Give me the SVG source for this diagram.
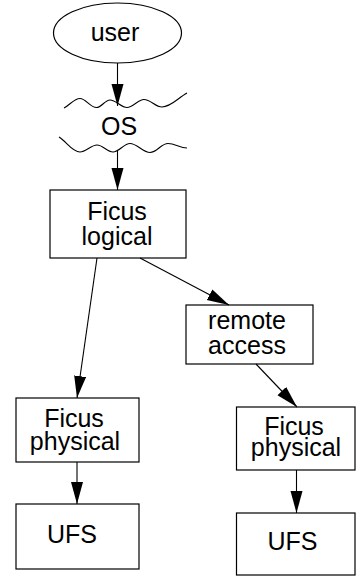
<svg xmlns="http://www.w3.org/2000/svg" width="356" height="577" viewBox="0 0 356 577">
<defs>
<style>
.box{fill:#fff;stroke:#000;stroke-width:1.2}
.t{font-family:"Liberation Sans",Arial,sans-serif;font-size:25px;fill:#000;text-anchor:middle}
.e{fill:none;stroke:#000;stroke-width:1.1}
.w{fill:none;stroke:#000;stroke-width:1.1}
</style>
<marker id="ah" markerUnits="userSpaceOnUse" markerWidth="24" markerHeight="14" refX="22" refY="6" orient="auto">
<path d="M0,0 L22,6 L0,12 z" fill="#000"/>
</marker>
</defs>
<rect width="356" height="577" fill="#fff"/>
<g id="user">
<ellipse cx="117.5" cy="33" rx="64" ry="30" class="box"/>
<text x="115" y="41" class="t">user</text>
</g>
<g id="os">
<path class="w" d="M64,108 C70,105 74,98.5 80,98.5 C86,98.5 90,107.5 96.5,107.5 C101.5,107.5 105,100 110,100 C116,100 121,107.5 127,107.5 C133,107.5 138,99.5 144,99.5 C151,99.5 155,107 162,107 C171,107 178,98 187,93"/>
<text x="119" y="135" class="t">OS</text>
<path class="w" d="M59,137 C66,141 72,152 80,152 C86,152 91,145 97,145 C103,145 107,152 113,152 C119,152 124,143.5 130,143.5 C137,143.5 143,152.5 150,152.5 C157,152.5 161,143.5 168,143.5 C175,143.5 180,148 187,148"/>
</g>
<g id="ficus-logical">
<rect x="50" y="190" width="136" height="68" class="box"/>
<text x="117" y="220" class="t">Ficus</text>
<text x="117" y="245" class="t">logical</text>
</g>
<g id="remote-access">
<rect x="186" y="305" width="127" height="59" class="box"/>
<text x="247" y="329" class="t">remote</text>
<text x="247" y="354" class="t">access</text>
</g>
<g id="ficus-physical-left">
<rect x="16" y="398" width="123" height="64" class="box"/>
<text x="74" y="427" class="t">Ficus</text>
<text x="75" y="450" class="t">physical</text>
</g>
<g id="ufs-left">
<rect x="16" y="504" width="123" height="65" class="box"/>
<text x="72" y="543" class="t">UFS</text>
</g>
<g id="ficus-physical-right">
<rect x="236.5" y="407" width="118.5" height="63" class="box"/>
<text x="294" y="435" class="t">Ficus</text>
<text x="296" y="456" class="t">physical</text>
</g>
<g id="ufs-right">
<rect x="236.5" y="513" width="118.5" height="62" class="box"/>
<text x="292.5" y="550" class="t">UFS</text>
</g>
<g id="connectors">
<line class="e" x1="117.5" y1="63" x2="117.5" y2="106" marker-end="url(#ah)"/>
<line class="e" x1="117.5" y1="151" x2="117.5" y2="190" marker-end="url(#ah)"/>
<line class="e" x1="97" y1="258" x2="77" y2="398" marker-end="url(#ah)"/>
<line class="e" x1="140" y1="258" x2="229" y2="305" marker-end="url(#ah)"/>
<line class="e" x1="256" y1="364" x2="297" y2="407" marker-end="url(#ah)"/>
<line class="e" x1="77" y1="462" x2="77" y2="504" marker-end="url(#ah)"/>
<line class="e" x1="296.5" y1="470" x2="296.5" y2="513" marker-end="url(#ah)"/>
</g>
</svg>
